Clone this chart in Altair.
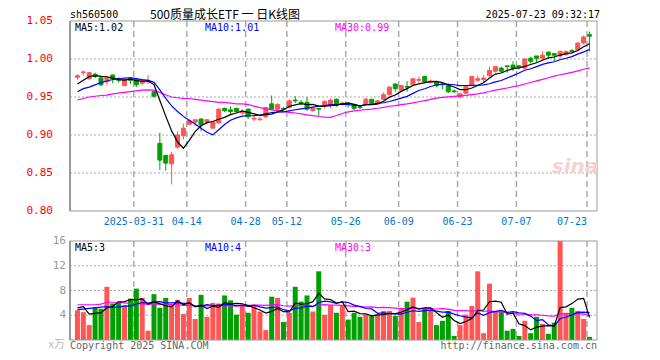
import altair as alt
import pandas as pd
import numpy as np

# ---------------- data ----------------
opens = [0.976, 0.982, 0.974, 0.980, 0.975, 0.970, 0.979, 0.974, 0.965, 0.975,
         0.973, 0.968, 0.970, 0.957, 0.889, 0.873, 0.862, 0.884, 0.899, 0.914,
         0.917, 0.921, 0.917, 0.909, 0.916, 0.935, 0.933, 0.935, 0.929, 0.934,
         0.921, 0.920, 0.924, 0.941, 0.934, 0.935, 0.936, 0.946, 0.943, 0.943,
         0.932, 0.935, 0.938, 0.940, 0.947, 0.941, 0.941, 0.940, 0.937, 0.940,
         0.947, 0.941, 0.947, 0.953, 0.967, 0.959, 0.964, 0.966, 0.972, 0.977,
         0.969, 0.970, 0.967, 0.965, 0.958, 0.950, 0.955, 0.966, 0.972, 0.973,
         0.978, 0.984, 0.988, 0.991, 0.992, 0.991, 0.988, 1.001, 1.004, 1.001,
         1.009, 1.007, 1.004, 1.006, 1.011, 1.012, 1.021, 1.032]
closes = [0.978, 0.983, 0.982, 0.977, 0.966, 0.975, 0.974, 0.972, 0.974, 0.972,
          0.966, 0.971, 0.972, 0.951, 0.867, 0.863, 0.874, 0.900, 0.909, 0.919,
          0.920, 0.913, 0.920, 0.917, 0.934, 0.932, 0.931, 0.931, 0.931, 0.924,
          0.922, 0.921, 0.936, 0.934, 0.940, 0.934, 0.945, 0.945, 0.942, 0.934,
          0.935, 0.934, 0.944, 0.946, 0.939, 0.942, 0.940, 0.935, 0.936, 0.947,
          0.941, 0.945, 0.953, 0.963, 0.961, 0.965, 0.963, 0.974, 0.973, 0.970,
          0.971, 0.965, 0.966, 0.957, 0.957, 0.954, 0.964, 0.977, 0.974, 0.975,
          0.985, 0.990, 0.984, 0.990, 0.988, 0.989, 1.000, 0.997, 1.001, 1.005,
          1.005, 1.005, 1.010, 1.010, 1.010, 1.021, 1.029, 1.030]
highs = [0.980, 0.985, 0.983, 0.982, 0.978, 0.977, 0.979, 0.976, 0.975, 0.976,
         0.975, 0.973, 0.979, 0.958, 0.903, 0.874, 0.878, 0.905, 0.915, 0.921,
         0.921, 0.922, 0.921, 0.918, 0.935, 0.936, 0.938, 0.936, 0.934, 0.935,
         0.925, 0.924, 0.937, 0.952, 0.942, 0.937, 0.947, 0.951, 0.946, 0.950,
         0.937, 0.935, 0.946, 0.948, 0.948, 0.944, 0.943, 0.941, 0.938, 0.949,
         0.947, 0.946, 0.956, 0.964, 0.968, 0.966, 0.971, 0.975, 0.977, 0.978,
         0.973, 0.971, 0.968, 0.968, 0.960, 0.956, 0.966, 0.978, 0.978, 0.979,
         0.990, 0.991, 0.990, 0.991, 0.997, 0.992, 1.001, 1.003, 1.004, 1.010,
         1.010, 1.008, 1.011, 1.011, 1.013, 1.022, 1.031, 1.036]
lows = [0.973, 0.978, 0.973, 0.975, 0.964, 0.965, 0.968, 0.969, 0.964, 0.967,
        0.963, 0.966, 0.967, 0.949, 0.854, 0.853, 0.835, 0.882, 0.894, 0.913,
        0.912, 0.905, 0.914, 0.908, 0.915, 0.930, 0.927, 0.929, 0.927, 0.921,
        0.918, 0.919, 0.922, 0.933, 0.932, 0.933, 0.935, 0.942, 0.939, 0.932,
        0.931, 0.925, 0.935, 0.935, 0.937, 0.939, 0.936, 0.933, 0.934, 0.939,
        0.940, 0.940, 0.946, 0.952, 0.957, 0.958, 0.957, 0.965, 0.969, 0.968,
        0.968, 0.963, 0.960, 0.955, 0.955, 0.948, 0.954, 0.965, 0.970, 0.969,
        0.977, 0.982, 0.982, 0.982, 0.984, 0.986, 0.986, 0.994, 0.996, 0.999,
        1.000, 0.997, 1.001, 1.004, 1.008, 1.011, 1.019, 1.010]
volumes = [4.8, 4.5, 2.4, 5.3, 5.05, 8.6, 5.9, 6.0, 5.5, 6.7,
           8.3, 6.8, 1.5, 7.4, 5.2, 6.8, 5.8, 6.5, 4.2, 6.8,
           3.4, 7.3, 3.75, 6.0, 5.9, 7.2, 6.4, 4.1, 5.7, 4.4,
           5.5, 4.6, 1.6, 7.0, 6.8, 2.9, 4.4, 8.6, 6.2, 7.2,
           4.6, 11.1, 4.1, 5.65, 4.4, 5.5, 3.3, 4.4, 3.75, 4.1,
           3.9, 4.1, 4.7, 4.7, 3.9, 5.05, 6.2, 6.85, 2.9, 5.05,
           4.9, 2.4, 3.1, 4.7, 0.65, 2.4, 4.1, 5.5, 11.1, 1.1,
           9.1, 4.6, 4.6, 1.5, 1.8, 0.65, 3.1, 1.1, 3.75, 2.6,
           1.0, 2.8, 16.0, 4.4, 5.2, 4.7, 3.4, 0.5]

# moving-average values at the start of the window (they depend on earlier days)
ma5_head = [0.967, 0.972, 0.977, 0.978]
ma10_head = [0.957, 0.961, 0.963, 0.966, 0.969, 0.971, 0.973, 0.974, 0.975]
ma30_head = [0.946, 0.948, 0.950, 0.951, 0.952, 0.9525, 0.954, 0.955, 0.956, 0.957,
             0.958, 0.959, 0.9595, 0.959, 0.956, 0.953, 0.950, 0.949, 0.948, 0.948,
             0.947, 0.946, 0.945, 0.944, 0.943, 0.943, 0.942, 0.941, 0.941]
vma5_head = [5.2, 5.4, 4.2, 4.3]
vma10_head = [4.9, 5.0, 5.1, 5.2, 5.3, 5.4, 5.3, 5.3, 5.5]
vma30_head = [5.7, 5.7, 5.7, 5.7, 5.8, 6.1, 6.1, 6.1, 6.0, 5.9,
              5.9, 5.8, 5.8, 5.8, 5.8, 5.8, 5.7, 5.7, 5.6, 5.6,
              5.5, 5.5, 5.5, 5.5, 5.5, 5.5, 5.5, 5.5, 5.5]

grid_days = [10, 19, 29, 36, 46, 55, 65, 75, 87]
date_labels = ["2025-03-31", "04-14", "04-28", "05-12", "05-26", "06-09", "06-23", "07-07", "07-23"]
price_ticks = [1.05, 1.00, 0.95, 0.90, 0.85, 0.80]
price_grid = [0.85, 0.90, 0.95, 1.00]
vol_ticks = [16, 12, 8, 4]
vol_grid = [4, 8, 12]

code = "sh560500"
title = "500质量成长ETF 一 日K线图"
stamp = "2025-07-23 09:32:17"
price_legend = ["MA5:1.02", "MA10:1.01", "MA30:0.99"]
vol_legend = ["MA5:3", "MA10:4", "MA30:3"]
legend_colors = ["#000000", "#0000FF", "#FF00FF"]


def moving(values, w, head):
    out = pd.Series(values, dtype=float).rolling(w).mean().tolist()
    out[:len(head)] = head
    return out


n = len(closes)
df = pd.DataFrame({
    "i": list(range(n)), "open": opens, "close": closes, "high": highs, "low": lows,
    "vol": volumes,
    "ma5": moving(closes, 5, ma5_head), "ma10": moving(closes, 10, ma10_head),
    "ma30": moving(closes, 30, ma30_head),
    "vma5": moving(volumes, 5, vma5_head), "vma10": moving(volumes, 10, vma10_head),
    "vma30": moving(volumes, 30, vma30_head),
})
df["dir"] = np.where(df["close"] >= df["open"], "up", "down")

RED = "#FF5555"
GREEN = "#00A000"
MONO = "DejaVu Sans Mono"
W, H = 527, 319
PH_TOP, PH_BOT = 0, 190
VH_TOP, VH_BOT = 220, 319

xs = alt.Scale(domain=[-0.4167, 87.4167], nice=False, zero=False)
ps = alt.Scale(domain=[0.80, 1.05], range=[PH_BOT, PH_TOP], nice=False, zero=False)
vs = alt.Scale(domain=[0, 16], range=[VH_BOT, VH_TOP], nice=False, zero=False)
X = alt.X("i:Q", scale=xs, axis=None)
dir_scale = alt.Scale(domain=["up", "down"], range=[RED, GREEN])

base = alt.Chart(df)

layers = []

# grid lines
gp = alt.Chart(pd.DataFrame({"v": price_grid})).mark_rule(color="#AAAAAA", strokeDash=[2, 2]).encode(
    y=alt.Y("v:Q", scale=ps, axis=None), x=alt.value(0), x2=alt.value(W))
gv = alt.Chart(pd.DataFrame({"v": vol_grid})).mark_rule(color="#AAAAAA", strokeDash=[2, 2]).encode(
    y=alt.Y("v:Q", scale=vs, axis=None), x=alt.value(0), x2=alt.value(W))
gdf = pd.DataFrame({"g": grid_days, "t": date_labels})
vg1 = alt.Chart(gdf).mark_rule(color="#AAAAAA", strokeDash=[6, 4], xOffset=-2.5, strokeWidth=1.5).encode(
    x=alt.X("g:Q", scale=xs, axis=None), y=alt.value(PH_TOP), y2=alt.value(PH_BOT))
vg2 = alt.Chart(gdf).mark_rule(color="#AAAAAA", strokeDash=[6, 4], xOffset=-2.5, strokeWidth=1.5).encode(
    x=alt.X("g:Q", scale=xs, axis=None), y=alt.value(VH_TOP), y2=alt.value(VH_BOT))
layers += [gp, gv, vg1, vg2]

# candles
wick = base.mark_rule(strokeWidth=1).encode(
    x=X, y=alt.Y("low:Q", scale=ps, axis=None), y2="high:Q",
    color=alt.Color("dir:N", scale=dir_scale, legend=None))
body = base.mark_bar(size=4, strokeWidth=1).encode(
    x=X, y=alt.Y("open:Q", scale=ps, axis=None), y2="close:Q",
    fill=alt.Fill("dir:N", scale=dir_scale, legend=None),
    stroke=alt.Stroke("dir:N", scale=dir_scale, legend=None))
layers += [wick, body]

# price moving averages
for col, colr in zip(["ma30", "ma10", "ma5"], ["#FF00FF", "#0000FF", "#000000"]):
    layers.append(base.mark_line(color=colr, strokeWidth=1.2).encode(
        x=X, y=alt.Y(f"{col}:Q", scale=ps, axis=None)))

# volume bars
vbar = base.mark_bar(size=5).encode(
    x=X, y=alt.Y("vol:Q", scale=vs, axis=None), y2=alt.datum(0),
    color=alt.Color("dir:N", scale=dir_scale, legend=None))
layers.append(vbar)
for col, colr in zip(["vma30", "vma10", "vma5"], ["#FF00FF", "#0000FF", "#000000"]):
    layers.append(base.mark_line(color=colr, strokeWidth=1.2).encode(
        x=X, y=alt.Y(f"{col}:Q", scale=vs, axis=None)))

# panel borders
one = pd.DataFrame({"a": [0]})
for top, bot in [(PH_TOP, PH_BOT), (VH_TOP, VH_BOT)]:
    layers.append(alt.Chart(one).mark_rect(fillOpacity=0, stroke="#999999", strokeWidth=1).encode(
        x=alt.value(0), x2=alt.value(W), y=alt.value(top), y2=alt.value(bot)))
    layers.append(alt.Chart(one).mark_rule(color="#999999", strokeWidth=2).encode(
        x=alt.value(0), y=alt.value(top), y2=alt.value(bot)))

# axis labels
layers.append(alt.Chart(pd.DataFrame({"v": price_ticks})).mark_text(
    align="right", baseline="middle", font=MONO, fontSize=11, color="#FF0000").encode(
    y=alt.Y("v:Q", scale=ps, axis=None), x=alt.value(-17), text=alt.Text("v:Q", format=".2f")))
layers.append(alt.Chart(pd.DataFrame({"v": vol_ticks})).mark_text(
    align="right", baseline="middle", font=MONO, fontSize=11, color="#999999").encode(
    y=alt.Y("v:Q", scale=vs, axis=None), x=alt.value(-4), text="v:Q"))
layers.append(alt.Chart(one).mark_text(
    align="right", baseline="alphabetic", font="Noto Sans CJK SC", fontSize=11, color="#BBBBBB").encode(
    x=alt.value(-5), y=alt.value(H + 8), text=alt.value("x万")))

# date labels
layers.append(alt.Chart(gdf.iloc[:-1]).mark_text(
    align="center", baseline="alphabetic", font=MONO, fontSize=10, color="#0077CC", xOffset=-2.5).encode(
    x=alt.X("g:Q", scale=xs, axis=None), y=alt.value(204), text="t:N"))
layers.append(alt.Chart(gdf.iloc[-1:]).mark_text(
    align="right", baseline="alphabetic", font=MONO, fontSize=10, color="#0077CC", xOffset=-2.5).encode(
    x=alt.X("g:Q", scale=xs, axis=None), y=alt.value(204), text="t:N"))

# legends
for k, (pl, vl, c) in enumerate(zip(price_legend, vol_legend, legend_colors)):
    xpos = [5, 135, 265][k]
    layers.append(alt.Chart(one).mark_text(align="left", baseline="alphabetic", font=MONO,
                                           fontSize=10, color=c).encode(
        x=alt.value(xpos), y=alt.value(10), text=alt.value(pl)))
    layers.append(alt.Chart(one).mark_text(align="left", baseline="alphabetic", font=MONO,
                                           fontSize=10, color=c).encode(
        x=alt.value(xpos), y=alt.value(VH_TOP + 10), text=alt.value(vl)))

# header and footer
layers.append(alt.Chart(one).mark_text(align="left", baseline="alphabetic", font=MONO,
                                       fontSize=10, color="#000000").encode(
    x=alt.value(0), y=alt.value(-3), text=alt.value(code)))
layers.append(alt.Chart(one).mark_text(align="left", baseline="top", font="Noto Sans CJK SC",
                                       fontSize=12, color="#000000").encode(
    x=alt.value(80), y=alt.value(-11.5), text=alt.value(title)))
layers.append(alt.Chart(one).mark_text(align="right", baseline="alphabetic", font=MONO,
                                       fontSize=10, color="#000000").encode(
    x=alt.value(530), y=alt.value(-3), text=alt.value(stamp)))
layers.append(alt.Chart(one).mark_text(align="left", baseline="alphabetic", font=MONO,
                                       fontSize=10, color="#666666").encode(
    x=alt.value(0), y=alt.value(H + 9), text=alt.value("Copyright 2025 SINA.COM")))
layers.append(alt.Chart(one).mark_text(align="right", baseline="alphabetic", font=MONO,
                                       fontSize=10, color="#666666").encode(
    x=alt.value(W), y=alt.value(H + 9), text=alt.value("http://finance.sina.com.cn")))
layers.append(alt.Chart(one).mark_text(align="center", baseline="alphabetic", font="DejaVu Sans",
                                       fontSize=20, fontWeight="bold", fontStyle="italic",
                                       color="#F2D4D4").encode(
    x=alt.value(505), y=alt.value(152), text=alt.value("sina")))

chart = alt.layer(*layers).resolve_scale(y="independent").properties(
    width=W, height=H,
    autosize=alt.AutoSizeParams(type="none"),
    padding={"left": 62, "top": 13, "right": 40, "bottom": 12},
    background="#FFFFFF",
).configure_view(stroke=None)

chart.save("out.html", embed_options={"renderer": "svg", "actions": False})
